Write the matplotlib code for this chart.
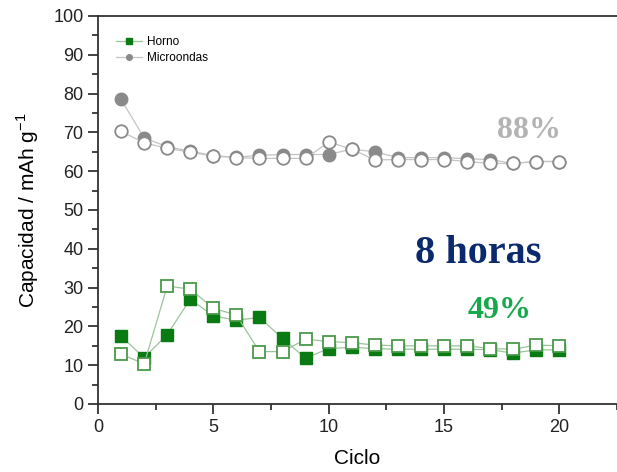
import matplotlib
matplotlib.use("Agg")
import matplotlib.pyplot as plt
from matplotlib.ticker import MultipleLocator

ciclos = list(range(1, 21))

# Horno (green squares): charge = filled, discharge = open
horno_carga = [17.5, 11.9, 17.9, 27.0, 22.7, 21.6, 22.3, 16.9, 11.8, 14.3,
               14.6, 14.3, 14.1, 14.1, 14.1, 14.1, 14.0, 13.1, 14.0, 13.9]
horno_descarga = [12.9, 10.3, 30.4, 29.6, 24.7, 22.9, 13.5, 13.5, 16.7, 16.1,
                  15.8, 15.2, 15.0, 15.0, 15.0, 15.0, 14.3, 14.1, 15.2, 15.0]

# Microondas (grey circles): charge = filled, discharge = open
micro_carga = [78.5, 68.6, 66.3, 65.2, 64.0, 63.6, 64.1, 64.3, 64.3, 64.3,
               65.7, 65.0, 63.5, 63.5, 63.5, 63.2, 63.0, 62.0, 62.5, 62.5]
micro_descarga = [70.3, 67.3, 65.9, 64.9, 63.9, 63.5, 63.3, 63.3, 63.3, 67.5,
                  65.7, 62.9, 63.0, 63.0, 63.0, 62.5, 62.0, 62.0, 62.5, 62.5]

plt.rcParams['font.family'] = ['Liberation Sans', 'DejaVu Sans']

fig = plt.figure(figsize=(6.17, 4.72), dpi=100)
ax = fig.add_axes([98 / 617, 1 - 404 / 472, 1 - 98 / 617, (404 - 16) / 472])

green = '#0a7a12'
green_line = '#9cc49c'
grey = '#8a8a8a'
grey_line = '#c4c4c4'

# filled (charge) series
ax.plot(ciclos, micro_carga, '-o', color=grey_line, lw=0.9, ms=9,
        mfc=grey, mec=grey, mew=1, zorder=2, label='Microondas')
ax.plot(ciclos, horno_carga, '-s', color=green_line, lw=0.9, ms=8.5,
        mfc=green, mec=green, mew=1, zorder=2, label='Horno')
# open (discharge) series on top
ax.plot(ciclos, micro_descarga, '-o', color=grey_line, lw=0.9, ms=9,
        mfc='white', mec=grey, mew=1.3, zorder=3)
ax.plot(ciclos, horno_descarga, '-s', color=green_line, lw=0.9, ms=8.5,
        mfc='white', mec='#4a9a4a', mew=1.3, zorder=3)

ax.set_xlim(0, 22.5)
ax.set_ylim(0, 100)
ax.xaxis.set_major_locator(MultipleLocator(5))
ax.xaxis.set_minor_locator(MultipleLocator(2.5))
ax.yaxis.set_major_locator(MultipleLocator(10))
ax.yaxis.set_minor_locator(MultipleLocator(5))
ax.tick_params(which='both', direction='out', top=False, right=False,
               labelsize=13, colors='#222222', width=1.2)
ax.tick_params(which='major', length=7)
ax.tick_params(which='minor', length=4)
ax.spines['right'].set_visible(False)
for s in ('left', 'bottom', 'top'):
    ax.spines[s].set_linewidth(1.3)
    ax.spines[s].set_color('#333333')

ax.set_xlabel('Ciclo', fontsize=15, labelpad=10)
ax.set_ylabel(r'Capacidad / mAh g$^{\mathregular{-1}}$', fontsize=15, labelpad=9)

h, l = ax.get_legend_handles_labels()
ax.legend([h[1], h[0]], [l[1], l[0]], loc='upper left',
          bbox_to_anchor=(0.015, 0.975), frameon=False, fontsize=8.5,
          markerscale=0.45, handlelength=2.2, handletextpad=0.4,
          labelspacing=0.35)

ax.text(18.7, 70.6, '88%', fontsize=23, fontweight='bold',
        family='Liberation Serif', color='#b3b3b3', ha='center', va='center')
ax.text(16.5, 38.7, '8 horas', fontsize=29, fontweight='bold',
        family='Liberation Serif', color='#0b2a6e', ha='center', va='center')
ax.text(17.4, 24.0, '49%', fontsize=23, fontweight='bold',
        family='Liberation Serif', color='#18a84c', ha='center', va='center')

fig.savefig('out.png', dpi=100)
